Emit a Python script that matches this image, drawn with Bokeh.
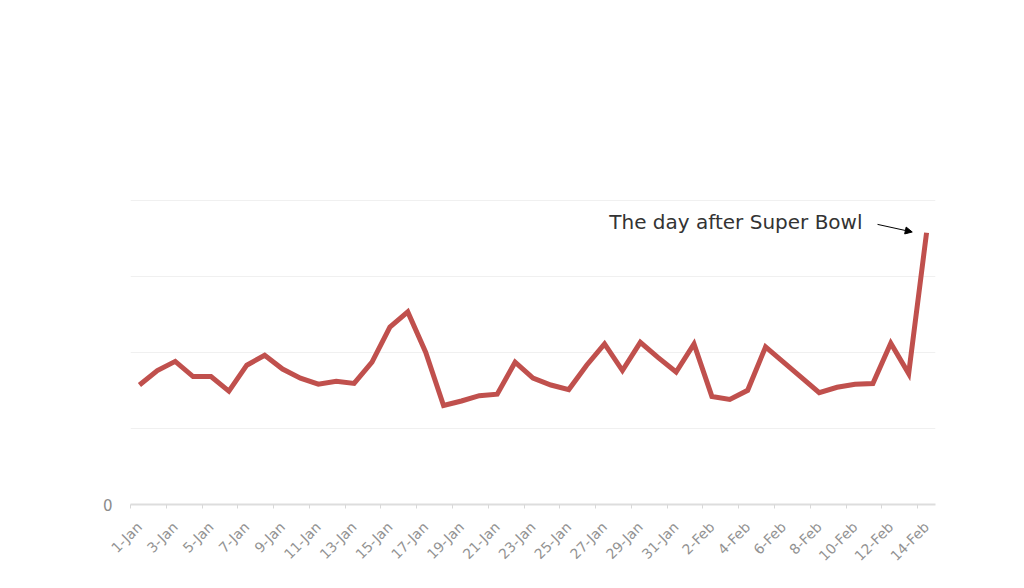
from bokeh.plotting import figure
from bokeh.models import FixedTicker, Label, Arrow, NormalHead, Range1d
from bokeh.embed import file_html
from bokeh.resources import INLINE
import math

# ---- data ----
dates = ["1-Jan", "2-Jan", "3-Jan", "4-Jan", "5-Jan", "6-Jan", "7-Jan", "8-Jan", "9-Jan", "10-Jan",
         "11-Jan", "12-Jan", "13-Jan", "14-Jan", "15-Jan", "16-Jan", "17-Jan", "18-Jan", "19-Jan", "20-Jan",
         "21-Jan", "22-Jan", "23-Jan", "24-Jan", "25-Jan", "26-Jan", "27-Jan", "28-Jan", "29-Jan", "30-Jan",
         "31-Jan", "1-Feb", "2-Feb", "3-Feb", "4-Feb", "5-Feb", "6-Feb", "7-Feb", "8-Feb", "9-Feb",
         "10-Feb", "11-Feb", "12-Feb", "13-Feb", "14-Feb"]
values = [157, 176, 188, 168, 168, 149, 183, 196, 178, 166,
          158, 162, 159, 187, 233, 253, 200, 130, 136, 143,
          145, 187, 166, 157, 151, 183, 211, 176, 213, 193,
          174, 211, 142, 138, 150, 207, 187, 167, 147, 154,
          158, 159, 212, 172, 357]
y_ticks = [0, 100, 200, 300, 400]
annotation_text = "The day after Super Bowl"
annotated_day = "14-Feb"

idx = list(range(1, len(dates) + 1))

p = figure(width=1008, height=572, output_backend="svg", toolbar_location=None,
           x_range=Range1d(0.5, len(dates) + 0.5), y_range=Range1d(0, 402),
           min_border_left=130, min_border_right=73, min_border_top=198, min_border_bottom=68)
p.outline_line_color = None
p.background_fill_color = "white"
p.border_fill_color = "white"

p.line(idx, values, line_color="#c0504d", line_width=5, line_join="miter")

# x axis: labels every other day, tick marks at category boundaries
p.xaxis.ticker = FixedTicker(ticks=idx[::2], minor_ticks=[i - 0.5 for i in idx[::2]])
p.xaxis.major_label_overrides = {i: dates[i - 1] for i in idx}
p.xaxis.major_label_orientation = math.pi / 4
p.xaxis.major_tick_line_color = None
p.xaxis.minor_tick_line_color = "#d8d8d8"
p.xaxis.minor_tick_out = 4
p.xaxis.minor_tick_in = 0
p.xaxis.axis_line_color = "#dddddd"
p.xaxis.axis_line_width = 2
p.xaxis.major_label_text_font = "DejaVu Sans"
p.xaxis.major_label_text_font_size = "14px"
p.xaxis.major_label_text_color = "#929292"
p.xaxis.major_label_standoff = 14
p.xgrid.grid_line_color = None

# y axis: only "0" labelled
p.yaxis.ticker = FixedTicker(ticks=y_ticks)
p.yaxis.major_label_overrides = {t: ("0" if t == 0 else "") for t in y_ticks}
p.yaxis.axis_line_color = None
p.yaxis.major_tick_line_color = None
p.yaxis.minor_tick_line_color = None
p.yaxis.major_label_text_font = "DejaVu Sans"
p.yaxis.major_label_text_font_size = "15px"
p.yaxis.major_label_text_color = "#8c8c8c"
p.yaxis.major_label_standoff = 12
p.ygrid.ticker = FixedTicker(ticks=y_ticks)
p.ygrid.grid_line_color = "#f0f0f0"
p.ygrid.grid_line_width = 1

# annotation
ai = dates.index(annotated_day) + 1
p.add_layout(Label(x=ai - 3.58, y=371, text=annotation_text, text_align="right",
                   text_baseline="middle", text_font="DejaVu Sans", text_font_size="20px",
                   text_color="#333333"))
p.add_layout(Arrow(x_start=ai - 2.74, y_start=368, x_end=ai - 0.8, y_end=358,
                   line_color="black", line_width=1,
                   end=NormalHead(size=7, fill_color="black", line_color="black")))

open("out.html", "w").write(file_html(p, INLINE))
